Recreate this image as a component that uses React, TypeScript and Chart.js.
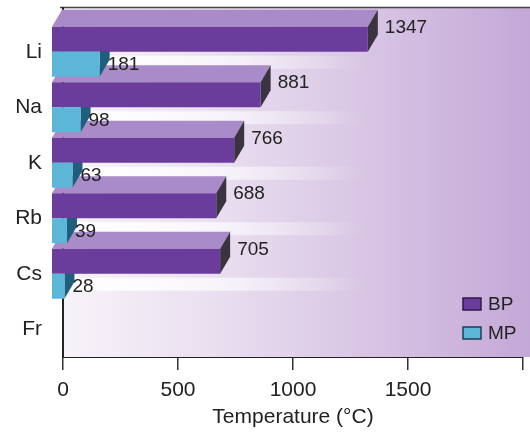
import React, { useEffect, useRef } from 'react';
import { Chart, registerables } from 'chart.js';

Chart.register(...registerables);

const categories = ['Li', 'Na', 'K', 'Rb', 'Cs', 'Fr'];
const boilingPoints: (number | null)[] = [1347, 881, 766, 688, 705, null];
const meltingPoints: (number | null)[] = [181, 98, 63, 39, 28, null];
const xTickValues = [0, 500, 1000, 1500, 2000];
const xTickLabels = ['0', '500', '1000', '1500', ''];
const seriesNames = ['BP', 'MP'];

const FONT = '"Liberation Sans", Arial, Helvetica, sans-serif';
const TEXT = '#222222';

const styles = [
  { front: '#6a3c9c', top: '#a88bc8', side: '#3a3340', legendBorder: '#2e1d45' },
  { front: '#5cb6d8', top: '#9fd6ea', side: '#1f5f7e', legendBorder: '#1d3f55' },
];

const DX = 10;
const DY = -17;
const LEFT_SHIFT = -11;
const RIGHT_SHIFT = -5;

const bars3d = {
  id: 'bars3d',
  beforeDatasetsDraw(chart: any) {
    const ctx = chart.ctx as CanvasRenderingContext2D;
    const area = chart.chartArea;
    const xs = chart.scales.x;
    const x0 = xs.getPixelForValue(0);
    const W = chart.width;

    // background wall
    const wallTop = area.top + DY;
    const g = ctx.createLinearGradient(x0, 0, W, 0);
    g.addColorStop(0, '#f7f3f9');
    g.addColorStop(0.3, '#ebe1f1');
    g.addColorStop(0.65, '#d8c5e4');
    g.addColorStop(1, '#c4a8d7');
    ctx.save();
    ctx.fillStyle = g;
    ctx.fillRect(x0, wallTop, W - x0, area.bottom - wallTop);

    // frame lines
    ctx.strokeStyle = '#444';
    ctx.lineWidth = 1.5;
    ctx.beginPath();
    ctx.moveTo(x0 - 3, wallTop + 0.5);
    ctx.lineTo(W, wallTop + 0.5);
    ctx.stroke();
    ctx.strokeStyle = '#222';
    ctx.lineWidth = 2;
    ctx.beginPath();
    ctx.moveTo(x0, wallTop);
    ctx.lineTo(x0, area.bottom);
    ctx.stroke();

    // light strips below each category row
    const bpMeta = chart.getDatasetMeta(0);
    bpMeta.data.forEach((el: any, i: number) => {
      if (boilingPoints[i] == null) return;
      const yTop = el.y + el.height / 2 + 4;
      const h = 13;
      const sg = ctx.createLinearGradient(x0, 0, x0 + 300, 0);
      sg.addColorStop(0, 'rgba(255,255,255,0.95)');
      sg.addColorStop(0.5, 'rgba(255,255,255,0.7)');
      sg.addColorStop(1, 'rgba(255,255,255,0)');
      ctx.fillStyle = sg;
      ctx.fillRect(x0 - 1, yTop, 301, h);
    });

    type Bar = { L: number; R: number; T: number; B: number; ds: number; i: number; v: number };
    const bars: Bar[] = [];
    [0, 1].forEach((ds) => {
      const meta = chart.getDatasetMeta(ds);
      const vals = ds === 0 ? boilingPoints : meltingPoints;
      meta.data.forEach((el: any, i: number) => {
        const v = vals[i];
        if (v == null) return;
        const xr = xs.getPixelForValue(v);
        bars.push({
          L: x0 + LEFT_SHIFT,
          R: xr + RIGHT_SHIFT,
          T: el.y - el.height / 2,
          B: el.y + el.height / 2,
          ds,
          i,
          v,
        });
      });
    });

    const poly = (pts: number[][], color: string) => {
      ctx.fillStyle = color;
      ctx.beginPath();
      ctx.moveTo(pts[0][0], pts[0][1]);
      for (let k = 1; k < pts.length; k++) ctx.lineTo(pts[k][0], pts[k][1]);
      ctx.closePath();
      ctx.fill();
    };

    // back faces first
    bars.forEach((b) => {
      const s = styles[b.ds];
      poly([[b.L, b.T], [b.R, b.T], [b.R + DX, b.T + DY], [b.L + DX, b.T + DY]], s.top);
      poly([[b.R, b.T], [b.R, b.B], [b.R + DX, b.B + DY], [b.R + DX, b.T + DY]], s.side);
    });
    // front faces
    bars.forEach((b) => {
      const s = styles[b.ds];
      ctx.fillStyle = s.front;
      ctx.fillRect(b.L, b.T, b.R - b.L, b.B - b.T);
    });

    // value labels
    ctx.fillStyle = TEXT;
    ctx.font = `19px ${FONT}`;
    ctx.textAlign = 'left';
    ctx.textBaseline = 'middle';
    bars.forEach((b) => {
      const xr = xs.getPixelForValue(b.v);
      if (b.ds === 0) {
        ctx.fillText(String(b.v), xr + 12, b.T + 0.5);
      } else {
        ctx.fillText(String(b.v), xr + 3, (b.T + b.B) / 2 + 1);
      }
    });

    // legend
    const lx = 463;
    const ly = [298, 327];
    seriesNames.forEach((name, k) => {
      const s = styles[k];
      ctx.fillStyle = s.front;
      ctx.fillRect(lx, ly[k], 18, 12);
      ctx.strokeStyle = s.legendBorder;
      ctx.lineWidth = 1.5;
      ctx.strokeRect(lx, ly[k], 18, 12);
      ctx.fillStyle = TEXT;
      ctx.font = `19px ${FONT}`;
      ctx.textAlign = 'left';
      ctx.textBaseline = 'middle';
      ctx.fillText(name, lx + 25, ly[k] + 7);
    });
    ctx.restore();
    return false;
  },
};

export default function App() {
  const ref = useRef<HTMLCanvasElement | null>(null);

  useEffect(() => {
    if (!ref.current) return;
    const chart = new Chart(ref.current, {
      type: 'bar',
      data: {
        labels: categories,
        datasets: [
          { label: seriesNames[0], data: boilingPoints, backgroundColor: styles[0].front },
          { label: seriesNames[1], data: meltingPoints, backgroundColor: styles[1].front },
        ],
      },
      options: {
        indexAxis: 'y',
        animation: false,
        responsive: false,
        maintainAspectRatio: false,
        devicePixelRatio: 1,
        categoryPercentage: 0.9,
        barPercentage: 1,
        layout: { padding: { top: 24, right: 7, left: 0, bottom: 0 } },
        plugins: {
          legend: { display: false },
          tooltip: { enabled: false },
        },
        scales: {
          x: {
            type: 'linear',
            min: 0,
            max: 2000,
            afterBuildTicks: (scale: any) => {
              scale.ticks = xTickValues.map((v) => ({ value: v }));
            },
            afterFit: (scale: any) => {
              scale.height = 75;
              scale.paddingLeft = 0;
              scale.paddingRight = 0;
            },
            ticks: {
              autoSkip: false,
              maxRotation: 0,
              padding: 8,
              color: TEXT,
              font: { size: 21, family: FONT },
              callback: (value: any) => {
                const idx = xTickValues.indexOf(Number(value));
                return idx >= 0 ? xTickLabels[idx] : '';
              },
            },
            grid: {
              display: true,
              drawOnChartArea: false,
              drawTicks: true,
              tickLength: 13,
              tickColor: '#333',
              lineWidth: 1.5,
            },
            border: { display: true, color: '#222', width: 2 },
            title: {
              display: true,
              text: 'Temperature (°C)',
              color: TEXT,
              font: { size: 21, family: FONT },
              padding: { top: 0, bottom: 2 },
            },
          },
          y: {
            type: 'category',
            offset: true,
            afterFit: (scale: any) => {
              scale.width = 63;
              scale.paddingTop = 0;
              scale.paddingBottom = 0;
            },
            ticks: {
              padding: 21,
              color: TEXT,
              font: { size: 21, family: FONT },
            },
            grid: { display: false, drawTicks: false },
            border: { display: false },
          },
        },
      },
      plugins: [bars3d],
    });
    return () => chart.destroy();
  }, []);

  return (
    <div style={{ position: 'fixed', left: 0, top: 0, width: 530, height: 432, background: '#fff' }}>
      <canvas ref={ref} width={530} height={432} style={{ display: 'block', width: 530, height: 432 }} />
    </div>
  );
}
